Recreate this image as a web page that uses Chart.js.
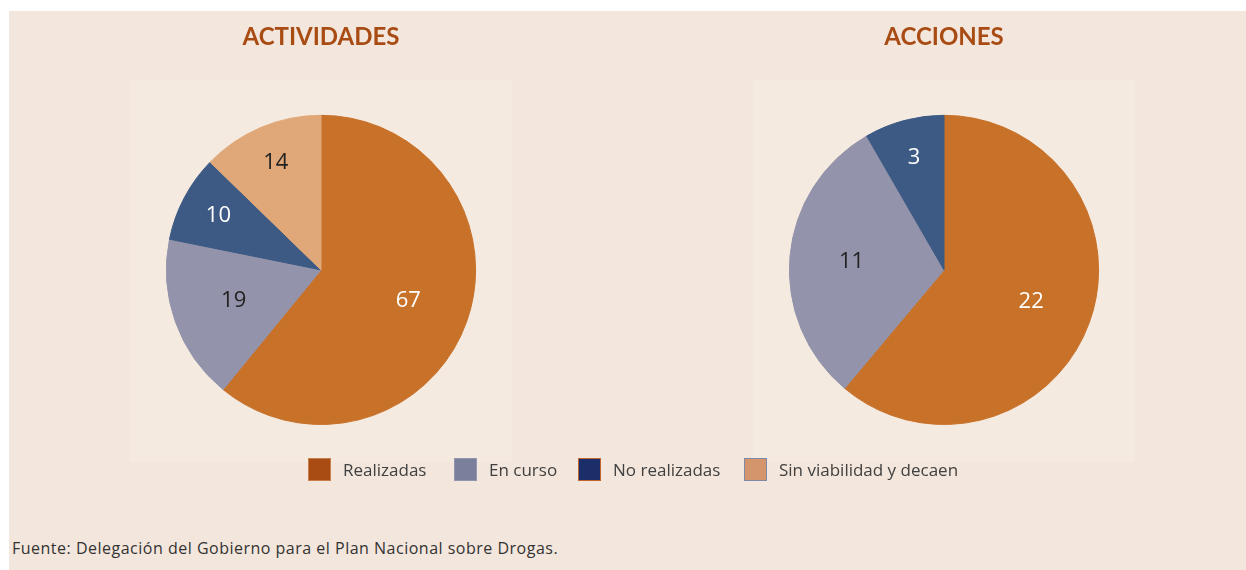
<!DOCTYPE html>
<html>
<head>
<meta charset="utf-8">
<script src="https://cdn.jsdelivr.net/npm/chart.js@4.4.1/dist/chart.umd.min.js"></script>
<style>
    body { margin: 0; background: #ffffff; font-family: 'Open Sans', Lato, sans-serif; }
    .panel { position: absolute; left: 9px; top: 11px; right: 0; bottom: 0; background: #f3e6dc; }
    .chartBox { position: absolute; top: 11px; width: 382px; height: 451px; }
    .legendItem { position: absolute; top: 458px; height: 23px; display: flex; align-items: center; font-size: 17px; color: #404040; }
    .legendItem span.box { display: inline-block; width: 21px; height: 21px; border: 1px solid; margin-right: 12px; }
    .source { position: absolute; left: 12px; top: 537px; font-size: 16px; letter-spacing: 0.5px; color: #333333; }
</style>
</head>
<body>
<div class="panel"></div>
<div class="chartBox" style="left: 130px;"><canvas id="actividadesGraphic"></canvas></div>
<div class="chartBox" style="left: 753px;"><canvas id="accionesGraphic"></canvas></div>
<div id="legend"></div>
<div class="source">Fuente: Delegación del Gobierno para el Plan Nacional sobre Drogas.</div>

<script>
/* Chart data */
const categories = ['Realizadas', 'En curso', 'No realizadas', 'Sin viabilidad y decaen'];
const actividadesValues = [67, 19, 10, 14];
const accionesValues = [22, 11, 3];

const sliceColors = ['#c87129', '#9394ab', '#3c5a84', '#e0a878'];
const labelColors = ['#ffffff', '#222222', '#ffffff', '#222222'];
const legendFill = ['#a84c14', '#7a7f9b', '#1c2e6a', '#d4956c'];
const legendBorder = ['#c8804c', '#9096b0', '#c0662a', '#8088a8'];
const legendLeft = [308, 454, 578, 744];

/* lighter plot area behind the pie */
const plotBackground = {
    id: 'plotBackground',
    beforeDraw: function (chart) {
        let ctx = chart.ctx;
        ctx.save();
        ctx.fillStyle = '#f5eae0';
        ctx.fillRect(0, 69, chart.width, chart.height - 69);
        ctx.restore();
    }
};

/* value labels inside the slices, small slices get them further out */
const sliceLabels = {
    id: 'sliceLabels',
    afterDatasetsDraw: function (chart) {
        let ctx = chart.ctx;
        let meta = chart.getDatasetMeta(0);
        let values = chart.data.datasets[0].data;
        let total = values.reduce(function (a, b) { return a + b; }, 0);

        ctx.save();
        ctx.font = '22px "Open Sans"';
        ctx.textAlign = 'center';
        ctx.textBaseline = 'middle';

        meta.data.forEach(function (arc, index) {
            let mid = (arc.startAngle + arc.endAngle) / 2;
            let share = values[index] / total;
            let dist = arc.outerRadius * (share < 0.15 ? 0.75 : 0.6);
            ctx.fillStyle = labelColors[index];
            ctx.fillText(values[index], arc.x + Math.cos(mid) * dist, arc.y + Math.sin(mid) * dist);
        });

        ctx.restore();
    }
};

function makePie(canvasId, title, values) {
    let ctx = document.getElementById(canvasId).getContext('2d');

    return new Chart(ctx, {
        type: 'pie',
        data: {
            labels: categories.slice(0, values.length),
            datasets: [
                {
                    data: values,
                    backgroundColor: sliceColors.slice(0, values.length),
                    borderColor: sliceColors.slice(0, values.length),
                    borderWidth: 1
                }
            ]
        },
        options: {
            responsive: true,
            maintainAspectRatio: false,
            animation: false,
            layout: {
                padding: { bottom: 37 }
            },
            plugins: {
                legend: { display: false },
                tooltip: { enabled: false },
                title: {
                    display: true,
                    text: title,
                    color: '#a84c14',
                    font: { family: 'Lato', size: 24, weight: 'bold', lineHeight: 1.2 },
                    padding: { top: 12, bottom: 63 }
                }
            }
        },
        plugins: [plotBackground, sliceLabels]
    });
}

makePie('actividadesGraphic', 'ACTIVIDADES', actividadesValues);
makePie('accionesGraphic', 'ACCIONES', accionesValues);

/* Legend shared by both pies */
let legend = document.getElementById('legend');
categories.forEach(function (name, index) {
    let item = document.createElement('div');
    item.className = 'legendItem';
    item.style.left = legendLeft[index] + 'px';

    let box = document.createElement('span');
    box.className = 'box';
    box.style.background = legendFill[index];
    box.style.borderColor = legendBorder[index];

    item.appendChild(box);
    item.appendChild(document.createTextNode(name));
    legend.appendChild(item);
});
</script>
</body>
</html>
